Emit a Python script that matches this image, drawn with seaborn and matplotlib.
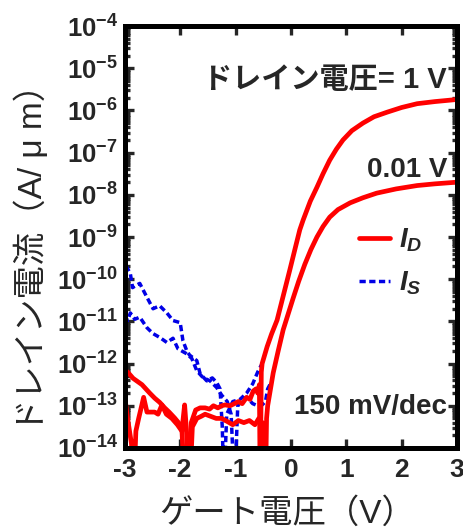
import numpy as np
import pandas as pd
import matplotlib
matplotlib.use('Agg')
import matplotlib.pyplot as plt
import seaborn as sns
from matplotlib.lines import Line2D
from matplotlib.ticker import LogLocator, FuncFormatter, NullFormatter

# ============================================
# データ (log10 of |I| in A/um; -15 = sign change dip)
# ============================================
vg_id_1v = [-3.0, -2.95, -2.85, -2.69, -2.55, -2.46, -2.37, -2.28, -2.2, -2.1,
            -2.03, -1.97, -1.92, -1.86, -1.8, -1.72, -1.64, -1.55, -1.47, -1.4,
            -1.32, -1.25, -1.19, -1.1, -1.02, -0.95, -0.88, -0.8, -0.74, -0.68,
            -0.63, -0.6, -0.57, -0.555, -0.535, -0.52, -0.43, -0.35, -0.25, -0.14,
            -0.02, 0.08, 0.16, 0.22, 0.35, 0.47, 0.58, 0.7, 0.82, 0.94,
            1.1, 1.3, 1.5, 1.74, 2.0, 2.28, 2.6, 3.0]
log_id_1v = [-12.15, -12.2, -12.35, -12.5, -12.7, -12.82, -12.92, -13.05, -13.15, -13.29,
             -13.4, -13.52, -15, -15, -13.4, -13.1, -13.05, -13.05, -13.08, -13.0,
             -13.05, -13.0, -12.98, -13.0, -12.95, -12.9, -12.95, -12.8, -12.85, -12.65,
             -12.6, -12.7, -12.5, -15, -12.2, -12.0, -11.6, -11.3, -10.97, -10.4,
             -9.78, -9.25, -8.83, -8.6, -8.15, -7.82, -7.5, -7.18, -6.92, -6.7,
             -6.48, -6.3, -6.15, -6.04, -5.93, -5.84, -5.79, -5.74]

vg_id_001v = [-3.0, -2.95, -2.88, -2.84, -2.8, -2.75, -2.66, -2.6, -2.53, -2.46,
              -2.4, -2.33, -2.25, -2.15, -2.05, -1.97, -1.92, -1.88, -1.83, -1.78,
              -1.7, -1.62, -1.55, -1.45, -1.35, -1.25, -1.14, -1.05, -0.95, -0.85,
              -0.75, -0.65, -0.58, -0.52, -0.48, -0.46, -0.44, -0.42, -0.32, -0.23,
              -0.14, 0.04, 0.14, 0.25, 0.36, 0.47, 0.58, 0.7, 0.85, 1.07,
              1.3, 1.55, 1.9, 2.28, 2.6, 3.0]
log_id_001v = [-12.8, -13.3, -13.9, -15, -13.6, -13.3, -12.8, -13.15, -13.15, -13.15,
               -13.2, -12.98, -13.2, -13.3, -13.45, -13.6, -12.98, -13.7, -15, -13.5,
               -13.3, -13.25, -13.2, -13.25, -13.3, -13.3, -13.38, -13.45, -13.35, -13.4,
               -13.35, -13.45, -13.3, -13.4, -13.5, -15, -13.3, -13.0, -12.22, -11.7,
               -11.2, -10.45, -10.05, -9.65, -9.3, -9.0, -8.75, -8.53, -8.35, -8.19,
               -8.07, -7.96, -7.86, -7.78, -7.74, -7.7]

vg_is_1 = [-3.0, -2.97, -2.9, -2.86, -2.8, -2.73, -2.6, -2.49, -2.37, -2.24,
           -2.13, -2.0, -1.95, -1.88, -1.83, -1.7, -1.64, -1.52, -1.42, -1.34,
           -1.28, -1.24, -1.21, -1.16, -1.05, -0.92, -0.8, -0.69, -0.6, -0.56, -0.52]
log_is_1 = [-9.45, -9.7, -9.87, -10.2, -10.15, -10.1, -10.43, -10.7, -10.63, -10.8,
            -10.98, -11.03, -11.46, -11.7, -11.8, -11.93, -12.24, -12.41, -12.34, -12.45,
            -12.6, -13.5, -15, -13.2, -12.9, -12.85, -12.7, -12.48, -12.2, -12.1, -12.0]

vg_is_2 = [-3.0, -2.95, -2.9, -2.82, -2.73, -2.6, -2.49, -2.37, -2.24, -2.13,
           -2.04, -1.88, -1.79, -1.7, -1.59, -1.46, -1.34, -1.25, -1.15, -1.08,
           -1.02, -0.96, -0.88, -0.8, -0.69, -0.6, -0.52, -0.46, -0.42, -0.38]
log_is_2 = [-10.86, -10.98, -10.8, -10.95, -10.9, -11.15, -11.29, -11.38, -11.5, -11.4,
            -11.65, -11.77, -11.88, -12.17, -12.33, -12.41, -12.57, -12.75, -12.9, -13.2,
            -15, -13.0, -12.85, -12.8, -12.95, -13.0, -12.98, -12.9, -12.6, -12.5]

x_ticks = [-3, -2, -1, 0, 1, 2, 3]
x_ticklabels = ['-3', '-2', '-1', '0', '1', '2', '3']

# ============================================
# スタイル
# ============================================
sns.set_theme(style='ticks')
plt.rcParams['font.family'] = ['Liberation Sans', 'Noto Sans CJK JP']
plt.rcParams['axes.unicode_minus'] = False
plt.rcParams['mathtext.fontset'] = 'custom'
plt.rcParams['mathtext.rm'] = 'Liberation Sans'
plt.rcParams['mathtext.bf'] = 'Liberation Sans:bold'
plt.rcParams['mathtext.it'] = 'Liberation Sans:italic:bold'

red = '#ff0000'
blue = '#0000e6'
dash = (0, (1.8, 1.0))

fig, ax = plt.subplots(figsize=(4.64, 5.32), dpi=100)
fig.subplots_adjust(left=0.269, right=0.985, top=0.951, bottom=0.158)

# I_S (blue dashed) first, I_D (red) on top
for vg, lg in [(vg_is_1, log_is_1), (vg_is_2, log_is_2)]:
    df = pd.DataFrame({'vg': vg, 'i': 10.0 ** np.array(lg)})
    sns.lineplot(data=df, x='vg', y='i', ax=ax, sort=False, estimator=None,
                 color=blue, lw=2.5, linestyle=dash)

for vg, lg in [(vg_id_1v, log_id_1v), (vg_id_001v, log_id_001v)]:
    df = pd.DataFrame({'vg': vg, 'i': 10.0 ** np.array(lg)})
    sns.lineplot(data=df, x='vg', y='i', ax=ax, sort=False, estimator=None,
                 color=red, lw=3.4)

ax.set_yscale('log')
ax.set_ylim(1e-14, 1e-4)
ax.set_xlim(-3, 3)

ax.yaxis.set_major_locator(LogLocator(base=10, numticks=20))
ax.yaxis.set_minor_locator(LogLocator(base=10, subs=np.arange(2, 10), numticks=20))
ax.yaxis.set_minor_formatter(NullFormatter())
ax.yaxis.set_major_formatter(FuncFormatter(
    lambda v, p: r'$\mathbf{10^{%d}}$' % int(round(np.log10(v)))))
ax.set_xticks(x_ticks)
ax.set_xticklabels(x_ticklabels, fontweight='bold')

ax.tick_params(which='both', direction='in', top=True, right=True, width=2.4)
ax.tick_params(which='major', length=6.5)
ax.tick_params(which='minor', length=3.5)
ax.tick_params(axis='x', pad=7, labelsize=19)
ax.tick_params(axis='y', pad=5, labelsize=18.5)
for s in ax.spines.values():
    s.set_linewidth(3.6)
    s.set_color('black')

ax.set_xlabel('ゲート電圧（V）', fontsize=24)
ax.set_ylabel('ドレイン電流（A/ μ m）', fontsize=24)
ax.xaxis.set_label_coords(0.49, -0.118)
ax.yaxis.set_label_coords(-0.228, 0.47)

ax.text(0.97, 0.872, 'ドレイン電圧= 1 V', transform=ax.transAxes, ha='right',
        va='center', fontsize=21, fontweight='bold')
ax.text(0.97, 0.659, '0.01 V', transform=ax.transAxes, ha='right',
        va='center', fontsize=20, fontweight='bold')
ax.text(0.97, 0.097, '150 mV/dec', transform=ax.transAxes, ha='right',
        va='center', fontsize=20, fontweight='bold')

handles = [Line2D([], [], color=red, lw=3.4),
           Line2D([], [], color=blue, lw=2.5, linestyle=dash)]
ax.legend(handles, [r'$\mathit{I}_{\mathit{D}}$', r'$\mathit{I}_{\mathit{S}}$'],
          loc='upper left', bbox_to_anchor=(0.705, 0.525), frameon=False,
          handlelength=1.1, handletextpad=0.35, labelspacing=0.55, borderpad=0,
          borderaxespad=0, fontsize=20)

plt.savefig('out.png', dpi=100)
